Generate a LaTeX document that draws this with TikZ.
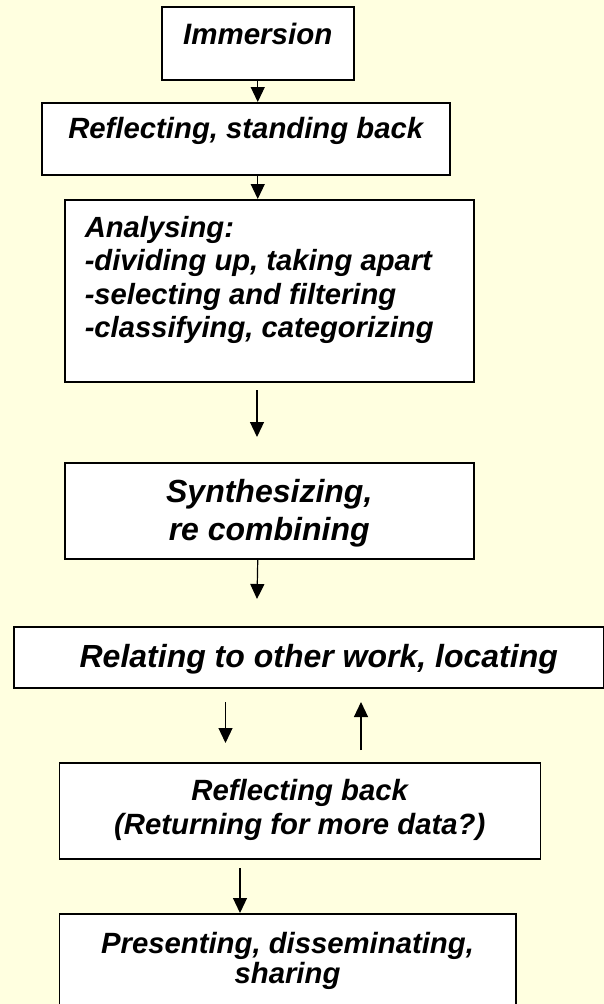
\documentclass[tikz,border=0pt]{standalone}
\usepackage{fontspec}
\setmainfont{Liberation Sans}
\usetikzlibrary{arrows.meta}
\definecolor{bgyellow}{HTML}{FFFFE0}
\begin{document}
\begin{tikzpicture}[x=1pt,y=-1pt,
  box/.style={draw=black, line width=1.5pt, fill=white, inner sep=0pt, anchor=north west},
  fs/.style 2 args={font=\bfseries\itshape\fontsize{#1}{#2}\selectfont},
  arr/.style={line width=1.2pt, -{Triangle[length=15pt,width=14pt]}}]
\fill[bgyellow] (0,0) rectangle (604,1004);
\useasboundingbox (0,0) rectangle (604,1004);

\node[box, fs={29.5}{34}, minimum width=192pt, text height=38pt, text depth=35pt] (imm) at (161,6) {Immersion};
\node[box, fs={29.3}{34}, minimum width=408pt, text height=36pt, text depth=36pt] (ref) at (41,102) {Reflecting, standing back};
\node[box, fs={29.2}{33.3}, text height=37.7pt, text depth=144.3pt] (ana) at (64,199)
  {\makebox[409pt][l]{\hspace{20pt}\begin{tabular}[t]{@{}l@{}}Analysing:\\-dividing up, taking apart\\-selecting and filtering\\-classifying, categorizing\end{tabular}}};
\node[box, fs={32}{38}, minimum width=409pt, text height=40pt, text depth=56pt] (syn) at (64,462)
  {\begin{tabular}[t]{@{}c@{}}Synthesizing,\\re combining\end{tabular}};
\node[box, fs={32}{38}, text height=41pt, text depth=20pt] (rel) at (13,626)
  {\makebox[590pt]{\hspace{20pt}Relating to other work, locating}};
\node[box, fs={29.3}{34}, minimum width=481pt, text height=38pt, text depth=58pt] (rb) at (58.5,762)
  {\begin{tabular}[t]{@{}c@{}}Reflecting back\\(Returning for more data?)\end{tabular}};
\node[box, fs={29.3}{29}, minimum width=456.5pt, text height=40pt, text depth=60pt] (pre) at (58.5,913)
  {\begin{tabular}[t]{@{}c@{}}Presenting, disseminating,\\sharing\end{tabular}};

\coordinate (a3s) at (257,390);
\coordinate (a3e) at (257,437);
\coordinate (a4e) at (257,599);
\coordinate (a5s) at (225.5,702);
\coordinate (a5e) at (225.5,743);
\coordinate (a6s) at (361,750);
\coordinate (a6e) at (361,702);
\coordinate (a7s) at (240,868);

\draw[arr] (imm.south) -- (imm.south |- ref.north);
\draw[arr] (imm.south |- ref.south) -- (imm.south |- ana.north);
\draw[arr] (a3s) -- (a3e);
\draw[arr] (imm.south |- syn.south) -- (a4e);
\draw[arr] (a5s) -- (a5e);
\draw[arr] (a6s) -- (a6e);
\draw[arr] (a7s) -- (a7s |- pre.north);
\end{tikzpicture}
\end{document}
